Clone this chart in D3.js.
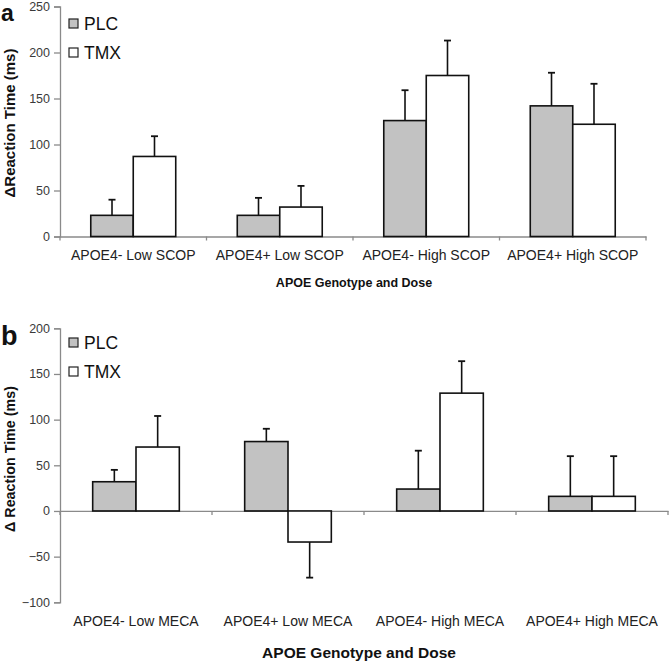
<!DOCTYPE html>
<html><head><meta charset="utf-8">
<script src="https://cdn.jsdelivr.net/npm/d3@7"></script>
<style>body{margin:0;background:#fff}svg{display:block}text{font-family:"Liberation Sans",Arial,sans-serif}</style>
</head><body>
<script>
const series = ["PLC", "TMX"];
const catsA = ["APOE4- Low SCOP", "APOE4+ Low SCOP", "APOE4- High SCOP", "APOE4+ High SCOP"];
const plcA = [23, 23, 126, 142];
const tmxA = [87, 32, 175, 122];
const plcErrA = [17, 19, 33, 36];
const tmxErrA = [22, 23, 38, 44];
const ticksA = [0, 50, 100, 150, 200, 250];

const catsB = ["APOE4- Low MECA", "APOE4+ Low MECA", "APOE4- High MECA", "APOE4+ High MECA"];
const plcB = [32, 76, 24, 16];
const tmxB = [70, -34, 129, 16];
const plcErrB = [13, 14, 42, 44];
const tmxErrB = [34, 39, 35, 44];
const ticksB = [-100, -50, 0, 50, 100, 150, 200];

const svg = d3.select("body").append("svg").attr("width", 670).attr("height", 664);

function panel(o) {
  const g = svg.append("g");
  const y = d3.scaleLinear().domain(o.ydom).range(o.yrange);
  const x0 = d3.scaleBand().domain(o.cats).range(o.xrange).padding(0);
  const bw = x0.bandwidth(), gw = bw * o.gfrac;
  const x1 = d3.scaleBand().domain(series).range([(bw - gw) / 2, (bw + gw) / 2]).padding(0);
  const rows = o.cats.map((c, i) => [
    {c, s: "PLC", v: o.plc[i], e: o.plcErr[i]},
    {c, s: "TMX", v: o.tmx[i], e: o.tmxErr[i]}]).flat();

  // y axis
  const ya = g.append("g").attr("transform", `translate(${o.xrange[0]},0)`)
    .call(d3.axisLeft(y).tickValues(o.ticks).tickSize(6).tickPadding(4));
  ya.select(".domain").attr("stroke", "#8a8a8a").attr("stroke-width", 1.3);
  ya.selectAll(".tick line").attr("stroke", "#8a8a8a").attr("stroke-width", 1.3);
  ya.selectAll(".tick text").attr("fill", "#3a3a3a").attr("font-size", 12.5);

  // x axis (at zero)
  const xa = g.append("g").attr("transform", `translate(0,${y(0)})`)
    .call(d3.axisBottom(x0).tickSize(0).tickFormat(""));
  xa.select(".domain").attr("stroke", "#8a8a8a").attr("stroke-width", 1.3);
  const bounds = [o.xrange[0]].concat(o.cats.map(c => x0(c) + bw));
  g.selectAll(".xt").data(bounds).join("line")
    .attr("x1", d => d).attr("x2", d => d).attr("y1", y(0)).attr("y2", y(0) + 4)
    .attr("stroke", "#8a8a8a").attr("stroke-width", 1.3);

  // bars
  g.selectAll(".bar").data(rows).join("rect")
    .attr("x", d => x0(d.c) + x1(d.s))
    .attr("width", x1.bandwidth())
    .attr("y", d => y(Math.max(0, d.v)))
    .attr("height", d => Math.abs(y(d.v) - y(0)))
    .attr("fill", d => d.s === "PLC" ? "#c2c2c2" : "#fff")
    .attr("stroke", "#111").attr("stroke-width", 1.6);

  // error bars
  const eg = g.selectAll(".err").data(rows).join("g");
  const cx = d => x0(d.c) + x1(d.s) + x1.bandwidth() / 2;
  const ev = d => d.v >= 0 ? d.v + d.e : d.v - d.e;
  eg.append("line").attr("x1", cx).attr("x2", cx)
    .attr("y1", d => y(d.v)).attr("y2", d => y(ev(d)))
    .attr("stroke", "#111").attr("stroke-width", 1.6);
  eg.append("line").attr("x1", d => cx(d) - 3.5).attr("x2", d => cx(d) + 3.5)
    .attr("y1", d => y(ev(d))).attr("y2", d => y(ev(d)))
    .attr("stroke", "#111").attr("stroke-width", 1.8);

  // category labels
  g.selectAll(".cl").data(o.cats).join("text")
    .attr("x", c => x0(c) + bw / 2).attr("y", o.catY)
    .attr("text-anchor", "middle").attr("font-size", 14).attr("fill", "#222").text(c => c);

  // x title
  g.append("text").attr("x", o.xtX).attr("y", o.xtY).attr("text-anchor", "middle")
    .attr("font-size", o.xtSize).attr("font-weight", "bold").attr("fill", "#111")
    .text("APOE Genotype and Dose");

  // y title
  g.append("text").attr("transform", `translate(${o.ytX},${o.ytY}) rotate(-90)`)
    .attr("text-anchor", "middle").attr("font-size", o.ytSize).attr("font-weight", "bold")
    .attr("fill", "#111").text(o.ytitle);

  // panel letter
  g.append("text").attr("x", 1).attr("y", o.letterY).attr("font-size", o.letterSize)
    .attr("font-weight", "bold").attr("fill", "#111").text(o.letter);

  // legend
  const lg = g.selectAll(".lg").data(series).join("g")
    .attr("transform", (d, i) => `translate(69,${o.legY + i * 29})`);
  lg.append("rect").attr("x", 0).attr("y", 0).attr("width", 9).attr("height", 9)
    .attr("fill", d => d === "PLC" ? "#c2c2c2" : "#fff").attr("stroke", "#222").attr("stroke-width", 1.2);
  lg.append("text").attr("x", 15).attr("y", 11).attr("font-size", 17.5).attr("fill", "#111").text(d => d);
}

panel({cats: catsA, plc: plcA, tmx: tmxA, plcErr: plcErrA, tmxErr: tmxErrA, ticks: ticksA,
  ydom: [0, 250], yrange: [236.5, 6.5], xrange: [60, 646], gfrac: 0.58,
  catY: 260, xtX: 354, xtY: 287, xtSize: 12.5, ytX: 15, ytY: 123, ytSize: 15,
  ytitle: "\u0394Reaction Time (ms)", letter: "a", letterY: 20.5, letterSize: 23, legY: 19});

panel({cats: catsB, plc: plcB, tmx: tmxB, plcErr: plcErrB, tmxErr: tmxErrB, ticks: ticksB,
  ydom: [-100, 200], yrange: [602.3, 328.3], xrange: [60, 668], gfrac: 0.57,
  catY: 626, xtX: 359, xtY: 658, xtSize: 15.5, ytX: 15, ytY: 459, ytSize: 14.3,
  ytitle: "\u0394 Reaction Time (ms)", letter: "b", letterY: 345, letterSize: 27, legY: 338});
</script>
</body></html>
